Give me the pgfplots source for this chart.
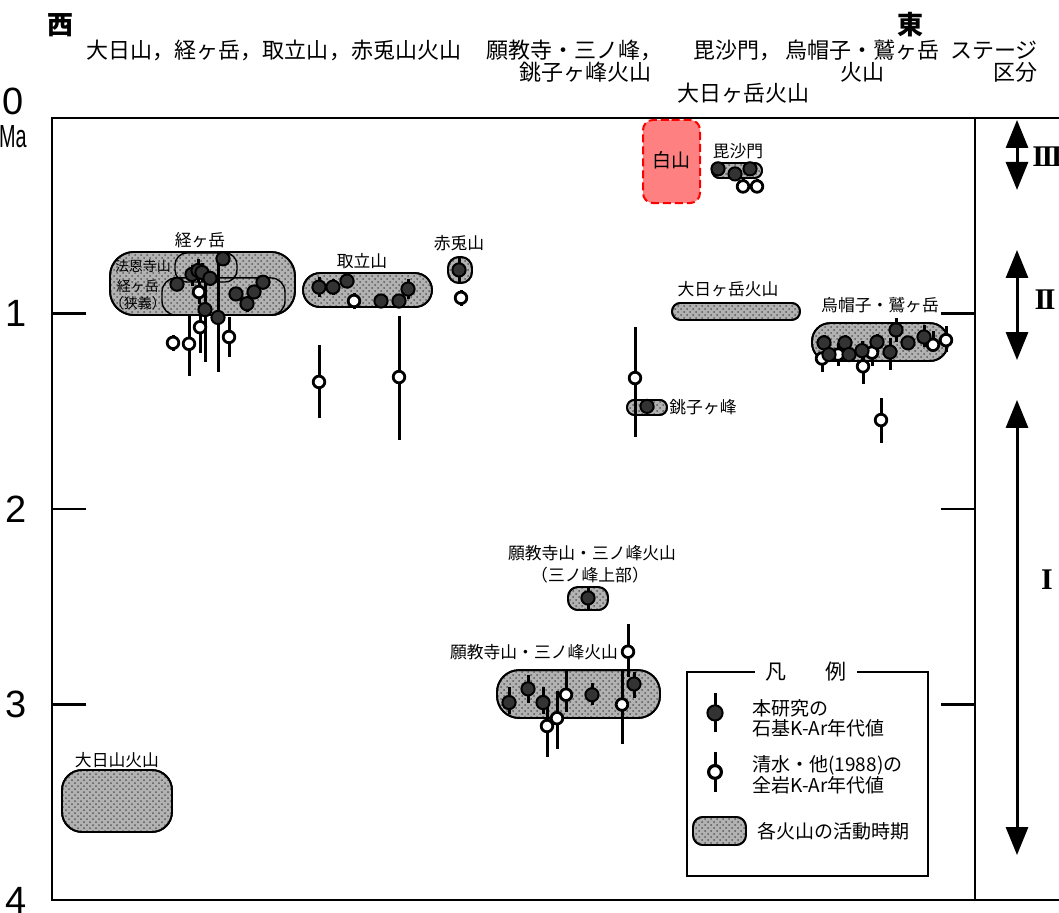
\documentclass[border=0pt]{standalone}
\usepackage{fontspec}
\setmainfont{Noto Sans CJK JP}
\newfontfamily\ticksans{Liberation Sans}
\newfontfamily\romanfont{Liberation Serif}
\usepackage{pgfplots}
\pgfplotsset{compat=1.18}
\usepackage{pgfplotstable}
\usetikzlibrary{patterns,arrows.meta}

% K-Ar ages: x position (px), age (Ma), error down (ep), error up (em)
\pgfplotstableread{
x y ep em
177 0.85 0.03 0.03
192 0.80 0.06 0.05
198 0.78 0.06 0.06
202 0.79 0.05 0.05
210 0.82 0.04 0.04
223 0.72 0.03 0.03
205 0.98 0.27 0.20
218 1.02 0.28 0.33
236 0.90 0.03 0.03
247 0.95 0.04 0.04
254 0.89 0.03 0.03
263 0.84 0.03 0.03
319 0.865 0.05 0.05
333 0.865 0.04 0.04
347 0.834 0.02 0.02
381 0.936 0.02 0.02
399 0.936 0.02 0.02
408 0.875 0.05 0.05
459 0.777 0.06 0.06
718 0.26 0.02 0.02
735 0.286 0.02 0.02
750 0.26 0.02 0.02
647 1.475 0.03 0.03
824 1.15 0.04 0.04
829 1.21 0.03 0.03
845 1.15 0.04 0.04
849 1.21 0.03 0.03
862 1.19 0.05 0.05
877 1.146 0.06 0.04
890 1.197 0.09 0.07
896 1.084 0.06 0.06
908 1.15 0.03 0.03
924 1.12 0.05 0.06
588 2.455 0.06 0.06
509 2.99 0.06 0.08
528 2.92 0.07 0.07
543 2.99 0.06 0.08
592 2.95 0.05 0.06
634 2.895 0.07 0.06
}\filledpts

\pgfplotstableread{
x y ep em
173 1.15 0.04 0.04
189 1.155 0.165 0.14
199 0.89 0.06 0.05
200 1.07 0.13 0.11
229 1.12 0.10 0.10
354 0.936 0.04 0.04
319 1.35 0.185 0.19
399 1.325 0.32 0.31
461 0.92 0.04 0.04
743 0.35 0.0 0.04
757 0.35 0.0 0.04
635 1.33 0.30 0.26
822 1.23 0.07 0.03
838 1.21 0.06 0.06
863 1.27 0.09 0.06
872 1.20 0.07 0.06
933 1.16 0.03 0.07
946 1.136 0.06 0.07
881 1.545 0.115 0.115
547 3.11 0.16 0.10
557 3.07 0.16 0.14
566 2.95 0.09 0.12
622 3.00 0.20 0.17
628 2.73 0.13 0.14
}\openpts

% legend symbols
\pgfplotstableread{
x y ep em
715 3.043 0.10 0.10
}\legfilled
\pgfplotstableread{
x y ep em
715 3.345 0.10 0.10
}\legopen

\tikzset{
  vol/.style={draw=black, line width=0.9pt, fill=gray!60,
    postaction={pattern=crosshatch dots, pattern color=black!65}},
  sub/.style={draw=black, line width=0.7pt},
  hakusan/.style={draw=red, line width=1pt, dash pattern=on 4pt off 2pt, fill=red!50!white},
  hd/.style={font=\fontsize{11}{12}\selectfont, inner sep=0pt},
  lab/.style={font=\fontsize{8.4}{9}\selectfont, inner sep=0pt},
  sm/.style={font=\fontsize{7}{8}\selectfont, inner sep=0pt},
  lg/.style={font=\fontsize{9.5}{10}\selectfont, inner sep=0pt, anchor=west},
  stg/.style={line width=1.5pt, {Triangle[width=11pt,length=14pt]}-{Triangle[width=11pt,length=14pt]}},
  rom/.style={font=\romanfont\bfseries\fontsize{15}{15}\selectfont, inner sep=0pt},
}

% capsule: [style]{x1}{x2}{y1}{y2}{corner radius}
\newcommand\capsule[6][vol]{%
  \pgfmathsetmacro\xm{(#2+#3)/2}%
  \addplot[#1, rounded corners=#6, forget plot] coordinates
    {(\xm,#4) (#3,#4) (#3,#5) (#2,#5) (#2,#4) (\xm,#4)};}

\begin{document}
\begin{tikzpicture}
\begin{axis}[
  x=0.5pt, y=97.75pt, y dir=reverse,
  xmin=52, xmax=975, ymin=0, ymax=4,
  clip=false,
  axis line style={line width=1.3pt},
  xtick=\empty,
  ytick={0,1,2,3,4},
  yticklabels={{\shortstack{0\\\rule{0pt}{13.5pt}\scalebox{0.62}[1]{\fontsize{16}{16}\selectfont Ma}}},1,2,3,4},
  yticklabel style={font=\ticksans\fontsize{19}{19}\selectfont, anchor=east, inner sep=0pt, xshift=-12.5pt},
  tick align=inside, major tick length=17pt,
  ytick style={line width=1.3pt, black},
]

% activity periods
\capsule{62}{172}{3.335}{3.652}{10pt}
\capsule{110}{295}{0.685}{1.008}{12pt}
\capsule[sub]{175}{237}{0.69}{0.839}{6pt}
\capsule[sub]{162}{285}{0.818}{1.008}{7pt}
\capsule{303}{432}{0.793}{0.967}{8.5pt}
\capsule{448}{472}{0.711}{0.844}{5.5pt}
\capsule{712}{762}{0.23}{0.307}{3.7pt}
\capsule{672}{800}{0.946}{1.033}{4.2pt}
\capsule{627}{667}{1.442}{1.519}{3.7pt}
\capsule{812}{948}{1.049}{1.243}{9pt}
\capsule{568}{608}{2.399}{2.517}{5pt}
\capsule{497}{660}{2.824}{3.069}{11pt}
\capsule[hakusan]{643}{700}{0.01}{0.435}{5pt}

% whole-rock ages (open)
\addplot[only marks, mark=*, mark size=2.9pt,
  mark options={fill=white, draw=black, line width=1.4pt}, forget plot,
  error bars/.cd, y dir=both, y explicit, error mark=none,
  error bar style={line width=1.5pt, black}]
  table[x=x, y=y, y error plus=ep, y error minus=em] {\openpts};

% groundmass ages (filled)
\addplot[only marks, mark=*, mark size=3.3pt,
  mark options={fill=black!80, draw=black, line width=1pt}, forget plot,
  error bars/.cd, y dir=both, y explicit, error mark=none,
  error bar style={line width=1.5pt, black}]
  table[x=x, y=y, y error plus=ep, y error minus=em] {\filledpts};

% legend box
\draw[line width=1.3pt] (axis cs:687,2.834) rectangle (axis cs:928,3.877);
\node[fill=white, inner xsep=5pt, inner ysep=1pt, font=\fontsize{10.5}{11}\selectfont] at (axis cs:806,2.834) {凡\hspace{1.9em}例};
\addplot[only marks, mark=*, mark size=3.8pt,
  mark options={fill=black!80, draw=black, line width=1pt}, forget plot,
  error bars/.cd, y dir=both, y explicit, error mark=none,
  error bar style={line width=1.5pt, black}]
  table[x=x, y=y, y error plus=ep, y error minus=em] {\legfilled};
\addplot[only marks, mark=*, mark size=3.2pt,
  mark options={fill=white, draw=black, line width=1.6pt}, forget plot,
  error bars/.cd, y dir=both, y explicit, error mark=none,
  error bar style={line width=1.5pt, black}]
  table[x=x, y=y, y error plus=ep, y error minus=em] {\legopen};
\capsule{693}{746}{3.575}{3.719}{5pt}
\node[lg] at (axis cs:752,3.018) {本研究の};
\node[lg] at (axis cs:752,3.120) {石基K-Ar年代値};
\node[lg] at (axis cs:752,3.309) {清水・他(1988)の};
\node[lg] at (axis cs:752,3.412) {全岩K-Ar年代値};
\node[lg] at (axis cs:757,3.647) {各火山の活動時期};

% header
\node[font=\fontsize{13}{13}\selectfont\bfseries, inner sep=0pt] at (axis cs:61,-0.476) {西};
\node[font=\fontsize{13}{13}\selectfont\bfseries, inner sep=0pt] at (axis cs:910,-0.476) {東};
\node[hd] at (axis cs:274,-0.348) {大日山，経ヶ岳，取立山，赤兎山火山};
\node[hd] at (axis cs:574,-0.348) {願教寺・三ノ峰，};
\node[hd] at (axis cs:585,-0.235) {銚子ヶ峰火山};
\node[hd, anchor=west] at (axis cs:693,-0.348) {毘沙門，};
\node[hd] at (axis cs:743,-0.125) {大日ヶ岳火山};
\node[hd] at (axis cs:862,-0.348) {烏帽子・鷲ヶ岳};
\node[hd] at (axis cs:862,-0.235) {火山};
\node[hd, anchor=west] at (axis cs:950,-0.348) {ステージ};
\node[hd] at (axis cs:1015,-0.235) {区分};

% volcano labels
\node[lab] at (axis cs:117,3.284) {大日山火山};
\node[lab] at (axis cs:200,0.624) {経ヶ岳};
\node[sm] at (axis cs:143,0.757) {法恩寺山};
\node[sm] at (axis cs:138,0.859) {経ヶ岳};
\node[sm] at (axis cs:138,0.946) {（狭義）};
\node[lab] at (axis cs:362,0.731) {取立山};
\node[lab] at (axis cs:459,0.639) {赤兎山};
\node[lab] at (axis cs:738,0.169) {毘沙門};
\node[lab] at (axis cs:728,0.875) {大日ヶ岳火山};
\node[lab, anchor=west] at (axis cs:669,1.478) {銚子ヶ峰};
\node[lab] at (axis cs:880,0.957) {烏帽子・鷲ヶ岳};
\node[lab] at (axis cs:592,2.225) {願教寺山・三ノ峰火山};
\node[lab] at (axis cs:590,2.338) {（三ノ峰上部）};
\node[lab] at (axis cs:534,2.731) {願教寺山・三ノ峰火山};
\node[font=\fontsize{9.5}{10}\selectfont, inner sep=0pt] at (axis cs:671,0.215) {白山};

% stage column
\draw[line width=1.3pt] (axis cs:975,0) -- (axis cs:1059,0);
\draw[line width=1.3pt] (axis cs:975,4) -- (axis cs:1059,4);
\draw[stg] (axis cs:1017,0.01) -- (axis cs:1017,0.368);
\draw[stg] (axis cs:1017,0.675) -- (axis cs:1017,1.238);
\draw[stg] (axis cs:1017,1.442) -- (axis cs:1017,3.77);
\node[rom, anchor=west] at (axis cs:1032,0.2) {I\kern-1.2pt I\kern-1.2pt I};
\node[rom] at (axis cs:1045,0.93) {I\kern-1.2pt I};
\node[rom] at (axis cs:1047,2.363) {I};

\coordinate (BL) at (axis cs:0,4.0614);
\coordinate (TR) at (axis cs:1059,-0.6036);
\end{axis}
\pgfresetboundingbox
\path[use as bounding box] (BL) rectangle (TR);
\end{tikzpicture}
\end{document}
